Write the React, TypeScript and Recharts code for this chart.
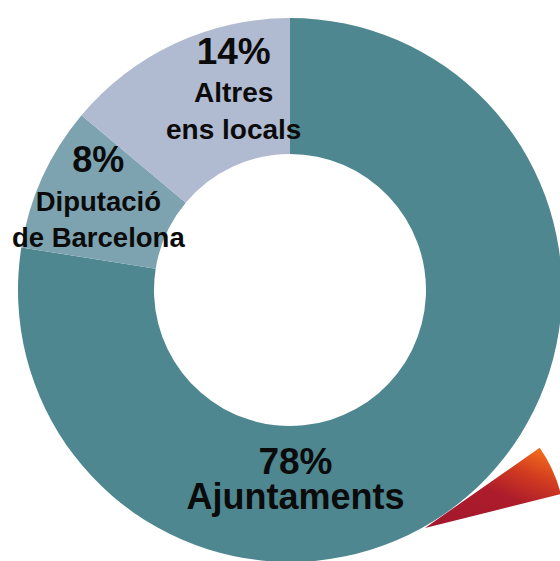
import React from 'react';
import { PieChart, Pie, Cell } from 'recharts';

// shares of the total
const categories = ['Ajuntaments', 'Diputació de Barcelona', 'Altres ens locals'];
const shares = [77.5, 8.6, 13.9];
const percentLabels = ['78%', '8%', '14%'];
const nameLines = [['Ajuntaments'], ['Diputació', 'de Barcelona'], ['Altres', 'ens locals']];
const COLORS = ['#4e878f', '#7ea3b0', '#b0bad0'];

// decorative red wedge in the lower right corner
const accent = [{ name: 'accent', value: 1 }];

const data = categories.map((name, i) => ({
  name,
  value: shares[i],
  pct: percentLabels[i],
  lines: nameLines[i],
}));

// label nudges relative to the middle of each ring segment
const LABEL_NUDGE = [
  { dx: -127, dy: 29, pctSize: 37, nameSize: 36, gap: 35, lineGap: 35 },
  { dx: -6, dy: -33, pctSize: 36, nameSize: 27.5, gap: 39, lineGap: 36 },
  { dx: 30, dy: -41, pctSize: 37, nameSize: 28, gap: 37.5, lineGap: 37.5 },
];

const RADIAN = Math.PI / 180;

const renderLabel = (props: any) => {
  const { cx, cy, midAngle, innerRadius, outerRadius, index, payload } = props;
  const r = (innerRadius + outerRadius) / 2;
  const mx = cx + r * Math.cos(-midAngle * RADIAN);
  const my = cy + r * Math.sin(-midAngle * RADIAN);
  const n = LABEL_NUDGE[index];
  const x = mx + n.dx;
  const y = my + n.dy;
  const lines: string[] = payload.lines;
  return (
    <g fontFamily="'Liberation Sans', Arial, sans-serif" fontWeight="bold" fill="#0b0b0b" textAnchor="middle">
      <text x={x} y={y} fontSize={n.pctSize}>{payload.pct}</text>
      {lines.map((line, i) => (
        <text key={line} x={x} y={y + n.gap + i * n.lineGap} fontSize={n.nameSize}>
          {line}
        </text>
      ))}
    </g>
  );
};

export default function App() {
  return (
    <div style={{ position: 'absolute', left: 0, top: 0, width: 560, height: 561, background: '#fff' }}>
      <PieChart width={560} height={561} margin={{ top: 0, right: 0, bottom: 0, left: 0 }}>
        <defs>
          <linearGradient id="redWedge" x1="0.2" y1="1" x2="0.9" y2="0">
            <stop offset="0" stopColor="#a3182d" />
            <stop offset="0.45" stopColor="#ad1c2b" />
            <stop offset="0.72" stopColor="#d23c20" />
            <stop offset="1" stopColor="#f7731a" />
          </linearGradient>
        </defs>
        <Pie
          data={accent}
          dataKey="value"
          cx={425}
          cy={528}
          innerRadius={0}
          outerRadius={140}
          startAngle={14}
          endAngle={35}
          stroke="none"
          fill="url(#redWedge)"
          isAnimationActive={false}
        />
        <Pie
          data={data}
          dataKey="value"
          cx={290}
          cy={290}
          innerRadius={136}
          outerRadius={272}
          startAngle={90}
          endAngle={-270}
          stroke="none"
          labelLine={false}
          label={renderLabel}
          isAnimationActive={false}
        >
          {data.map((_entry, index) => (
            <Cell key={`cell-${index}`} fill={COLORS[index % COLORS.length]} />
          ))}
        </Pie>
      </PieChart>
    </div>
  );
}
